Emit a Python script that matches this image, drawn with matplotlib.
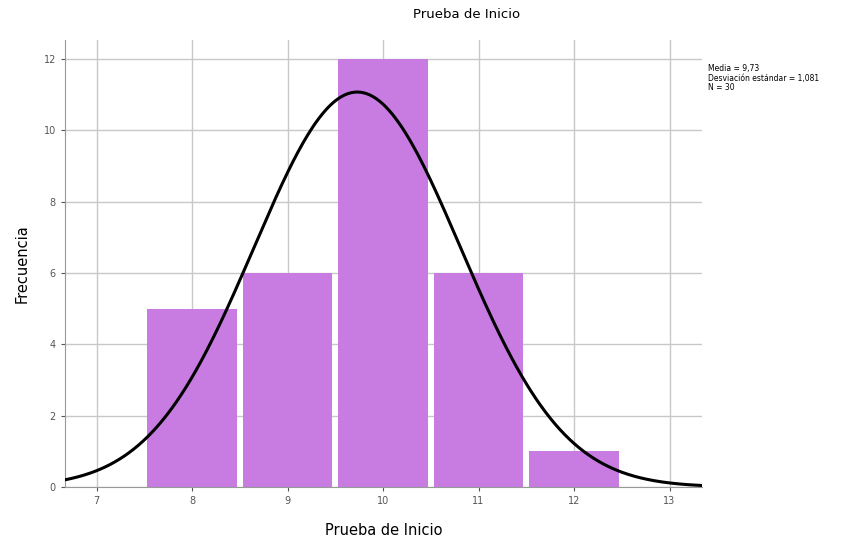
import numpy as np
import matplotlib
matplotlib.use("Agg")
import matplotlib.pyplot as plt

# histogram data
valores = [8, 9, 10, 11, 12]
frecuencias = [5, 6, 12, 6, 1]
media = 9.73
desv = 1.081
n = 30

fig = plt.figure(figsize=(8.64, 5.42), dpi=100)
ax = fig.add_axes([65/864, 55/542, 637/864, 447/542])

ax.bar(valores, frecuencias, width=0.935, color="#C87CE2",
       linewidth=0, zorder=2)

# normal curve scaled to counts
xs = np.linspace(6.67, 13.34, 400)
ys = n * np.exp(-0.5 * ((xs - media) / desv) ** 2) / (desv * np.sqrt(2 * np.pi))
ax.plot(xs, ys, color="black", lw=2.2, zorder=3)

ax.set_xlim(6.67, 13.34)
ax.set_ylim(0, 12.53)
ax.set_xticks(range(7, 14))
ax.set_yticks(range(0, 13, 2))
ax.tick_params(labelsize=7, colors="#555555", length=3)
ax.grid(True, color="#c8c8c8", lw=1.0, zorder=0)
ax.set_axisbelow(True)
for s in ["top", "right"]:
    ax.spines[s].set_visible(False)
for s in ["left", "bottom"]:
    ax.spines[s].set_color("#999999")

fig.text(467/864, 1 - 14/542, "Prueba de Inicio", fontsize=9.5,
         ha="center", va="center")
ax.set_xlabel("Prueba de Inicio", fontsize=10.5, labelpad=12)
ax.set_ylabel("Frecuencia", fontsize=10.5, labelpad=10)

fig.text(708/864, 1 - 64/542,
         "Media = 9,73\nDesviación estándar = 1,081\nN = 30",
         fontsize=5.5, va="top", ha="left", linespacing=1.1)

fig.savefig("out.png", dpi=100)
